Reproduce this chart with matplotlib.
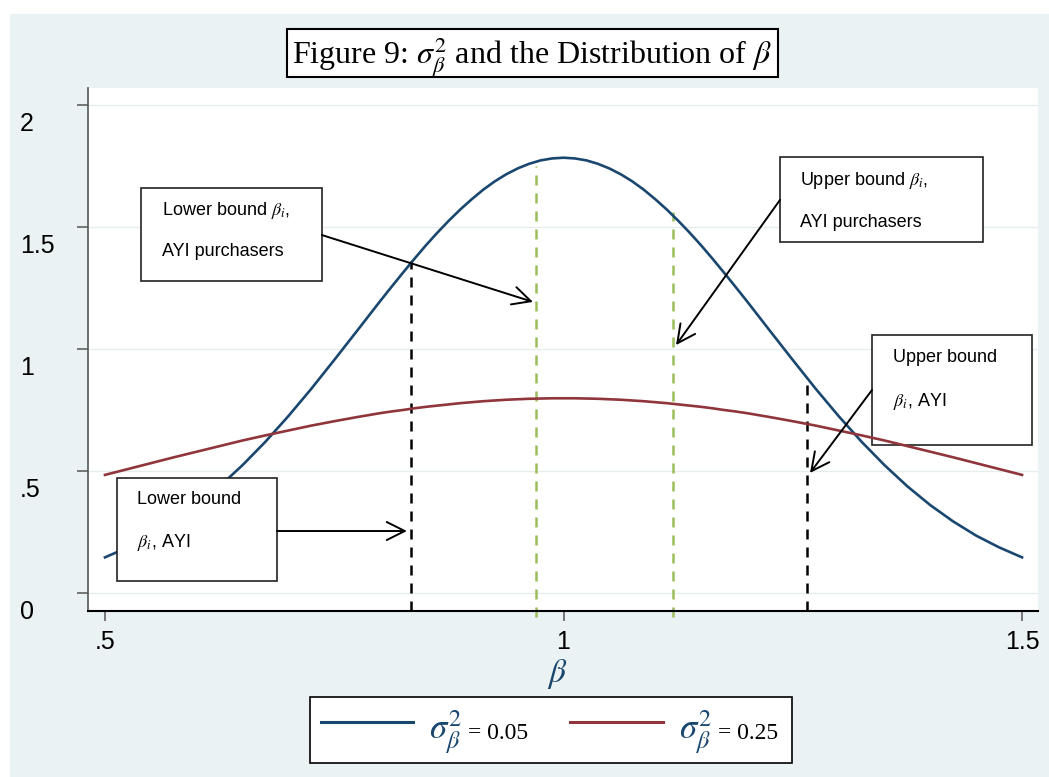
import matplotlib
matplotlib.use('Agg')
import matplotlib.pyplot as plt
from matplotlib.patches import Rectangle
from matplotlib.lines import Line2D
from matplotlib.transforms import ScaledTranslation


plt.rcParams.update({'font.size': 18, 'font.family': 'Liberation Sans', 'mathtext.fontset': 'stix'})

BG = '#eaf2f3'
BLUE = '#1a476f'
RED = '#90353b'
GREEN = '#9bbd5a'

# values (density of beta), finer around the peak
beta = [0.5, 0.525, 0.55, 0.575, 0.6, 0.625, 0.65, 0.675, 0.7, 0.725,
        0.75, 0.775, 0.8, 0.8125, 0.825, 0.8375, 0.85, 0.8625, 0.875, 0.8875,
        0.9, 0.9125, 0.925, 0.9375, 0.95, 0.9625, 0.975, 0.9875,
        1.0, 1.0125, 1.025, 1.0375, 1.05, 1.0625, 1.075, 1.0875, 1.1, 1.1125,
        1.125, 1.1375, 1.15, 1.1625, 1.175, 1.1875, 1.2, 1.225,
        1.25, 1.275, 1.3, 1.325, 1.35, 1.375, 1.4, 1.425, 1.45, 1.475, 1.5]
dens_005 = [0.146, 0.187, 0.235, 0.293, 0.360, 0.437, 0.524, 0.620, 0.725, 0.837,
            0.955, 1.075, 1.196, 1.255, 1.313, 1.370, 1.425, 1.477, 1.526, 1.572,
            1.614, 1.653, 1.687, 1.716, 1.740, 1.759, 1.773, 1.781,
            1.784, 1.781, 1.773, 1.759, 1.740, 1.716, 1.687, 1.653, 1.614, 1.572,
            1.526, 1.477, 1.425, 1.370, 1.313, 1.255, 1.196, 1.075,
            0.955, 0.837, 0.725, 0.620, 0.524, 0.437, 0.360, 0.293, 0.235, 0.187, 0.146]
dens_025 = [0.484, 0.508, 0.532, 0.556, 0.579, 0.602, 0.625, 0.646, 0.666, 0.686,
            0.704, 0.721, 0.737, 0.744, 0.750, 0.757, 0.763, 0.768, 0.773, 0.778,
            0.782, 0.786, 0.789, 0.792, 0.794, 0.796, 0.797, 0.798,
            0.798, 0.798, 0.797, 0.796, 0.794, 0.792, 0.789, 0.786, 0.782, 0.778,
            0.773, 0.768, 0.763, 0.757, 0.750, 0.744, 0.737, 0.721,
            0.704, 0.686, 0.666, 0.646, 0.625, 0.602, 0.579, 0.556, 0.532, 0.508, 0.484]

bound_x = [0.834, 0.970, 1.119, 1.266]
bound_top = [1.36, 1.75, 1.56, 0.88]
bound_colors = ['black', GREEN, GREEN, 'black']

yticks = [0, 0.5, 1, 1.5, 2]
ytick_labels = ['0', '.5', '1', '1.5', '2']
xticks = [0.5, 1, 1.5]
xtick_labels = ['.5', '1', '1.5']

W, H = 1049, 777


def fx(px):
    return px / W


def fy(py):
    return 1 - py / H


fig = plt.figure(figsize=(W / 100, H / 100), dpi=100)
fig.patch.set_facecolor('white')
fig.add_artist(Rectangle((fx(10), 0), 1, fy(14), transform=fig.transFigure,
                         fc=BG, ec='none', zorder=-10))

ax = fig.add_axes([fx(88), fy(611), fx(1038) - fx(88), fy(88) - fy(611)])
ax.set_xlim(0.4815, 1.5174)
ax.set_ylim(-0.0738, 2.0697)

ax.plot(beta, dens_005, color=BLUE, lw=1.9, zorder=3)
ax.plot(beta, dens_025, color=RED, lw=1.9, zorder=3)
for x, top, c in zip(bound_x, bound_top, bound_colors):
    bottom = -0.1 if c == GREEN else -0.0738
    ax.plot([x, x], [bottom, top], color=c, lw=1.8, ls=(0, (4, 3.2)), zorder=2, clip_on=False)

ax.set_yticks(yticks)
ax.set_yticklabels(ytick_labels)
ax.set_xticks(xticks)
ax.set_xticklabels(xtick_labels)
ax.grid(axis='y', color='#e6eded', lw=1)
ax.set_axisbelow(True)
for s in ['top', 'right']:
    ax.spines[s].set_visible(False)
ax.spines['left'].set_color('#555555')
ax.spines['left'].set_linewidth(1.2)
ax.spines['bottom'].set_color('black')
ax.spines['bottom'].set_linewidth(1.5)
ax.tick_params(axis='y', length=8, width=1.1, color='#555555', pad=41)
ax.tick_params(axis='x', length=7, width=1.1, color='#555555', pad=7)
for lab in ax.get_yticklabels():
    lab.set_ha('left')
    lab.set_va('top')
    lab.set_transform(lab.get_transform() + ScaledTranslation(0, -7 / 100, fig.dpi_scale_trans))

# annotation boxes: (x0, y0, x1, y1), zorder, lines of text, text position, arrow start, arrow end
notes = [
    ((0.5393, 1.279, 0.7366, 1.660), 5, [r'Lower bound $\beta_i$,', 'AYI purchasers'],
     (0.5622, [1.566, 1.398]), (0.7366, 1.467), (0.9667, 1.193)),
    ((1.2361, 1.439, 1.4575, 1.787), 5, [r'Upper bound $\beta_i$,', 'AYI purchasers'],
     (1.2579, [1.689, 1.520]), (1.2361, 1.611), (1.1227, 1.016)),
    ((0.5131, 0.049, 0.6876, 0.471), 5, ['Lower bound', r'$\beta_i$, AYI'],
     (0.5349, [0.385, 0.205]), (0.6876, 0.254), (0.8293, 0.254)),
    ((1.3364, 0.607, 1.5109, 1.057), 1, ['Upper bound', r'$\beta_i$, AYI'],
     (1.3593, [0.967, 0.783]), (1.3364, 0.832), (1.2688, 0.492)),
]
for (x0, y0, x1, y1), z, lines, (tx, tys), start, end in notes:
    ax.add_patch(Rectangle((x0, y0), x1 - x0, y1 - y0, fc='white', ec='#222222', lw=1.2, zorder=z))
    for txt, ty in zip(lines, tys):
        ax.text(tx, ty, txt, fontsize=13, ha='left', va='center', zorder=z + 1)
    ax.annotate('', xy=end, xytext=start,
                arrowprops=dict(arrowstyle='->,head_length=1.0,head_width=0.5', lw=1.4,
                                color='black', shrinkA=0, shrinkB=0, mutation_scale=13),
                zorder=6)

fig.text(fx(557), fy(674), r'$\beta$', color=BLUE, fontsize=24, ha='center', va='center')

# title in its own box
fig.add_artist(Rectangle((fx(287), fy(77)), fx(778) - fx(287), fy(29) - fy(77),
                         transform=fig.transFigure, fc='white', ec='black', lw=1.5))
fig.text(fx(532), fy(65), r'Figure 9: $\sigma_\beta^2$ and the Distribution of $\beta$',
         family='Liberation Serif', fontsize=23, ha='center', va='baseline')

# legend
fig.add_artist(Rectangle((fx(310), fy(763)), fx(792) - fx(310), fy(697) - fy(763),
                         transform=fig.transFigure, fc='white', ec='black', lw=1.2))
for (l0, l1, sx, ex), c, val in zip([(321, 413, 429, 468), (570, 663, 679, 718)],
                                    [BLUE, RED], ['0.05', '0.25']):
    fig.add_artist(Line2D([fx(l0), fx(l1)], [fy(722), fy(722)], color=c, lw=2.2,
                          transform=fig.transFigure))
    fig.text(fx(sx), fy(739), r'$\sigma_\beta^2$', color=BLUE, fontsize=25, va='baseline')
    fig.text(fx(ex), fy(739), '= ' + val, family='Liberation Serif', fontsize=17, va='baseline')

fig.savefig('out.png', dpi=100)
